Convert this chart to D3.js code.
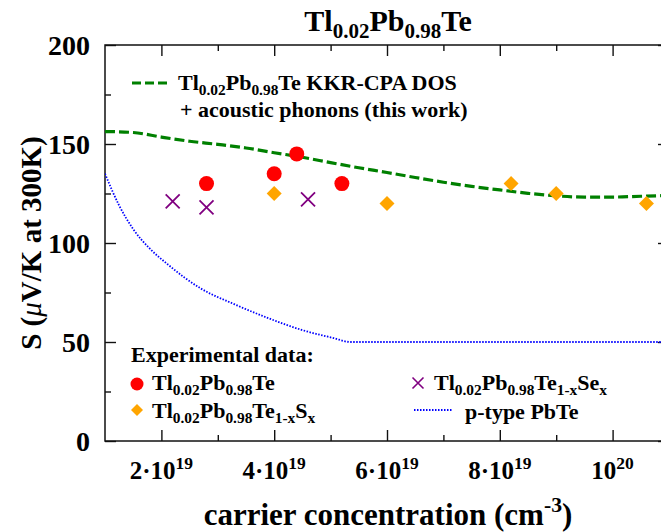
<!DOCTYPE html>
<html>
<head>
<meta charset="utf-8">
<script src="https://cdn.jsdelivr.net/npm/d3@7"></script>
<style>
  body { margin: 0; background: #fff; }
</style>
</head>
<body>
<script>
// data, carrier concentration in units of 1e19 cm^-3
var kkrN = [1.0, 1.5, 2.0, 2.5, 3.0, 3.5, 4.0, 4.5, 5.0, 5.5, 6.0, 6.5, 7.0, 7.5, 8.0, 8.5, 9.0, 9.5, 10.0, 10.5, 11.0];
var kkrS = [156.3, 155.8, 153.5, 151.4, 149.8, 148.0, 145.6, 143.3, 140.6, 138.0, 135.6, 133.1, 130.7, 128.6, 126.8, 125.1, 123.8, 123.2, 123.2, 123.6, 124.0];
var pN = [1.0, 1.25, 1.5, 1.8, 2.1, 2.7, 3.3, 3.9, 4.5, 5.05, 5.35, 11.0];
var pS = [135, 119, 107, 97, 89.5, 77, 69, 62, 56, 52, 50, 50];
var tlN = [2.8, 4.0, 4.4, 5.2];
var tlS = [130, 135, 145, 130];
var sN = [4.0, 6.0, 8.2, 9.0, 10.6];
var sS = [125, 120, 130, 125, 120];
var seN = [2.2, 2.8, 4.6];
var seS = [121, 118, 122];

var xTicks = [2, 4, 6, 8, 10];
var xMinor = [3, 5, 7, 9];
var xTickBase = ["2·10", "4·10", "6·10", "8·10", "10"];
var xTickSup = ["19", "19", "19", "19", "20"];
var yTicks = [0, 50, 100, 150, 200];
var yMinor = [25, 75, 125, 175];

var W = 661, H = 532;
var plot = { left: 105, right: 669, top: 45, bottom: 441 };
var serif = "'Liberation Serif', 'Times New Roman', serif";

var svg = d3.select("body").append("svg")
    .attr("width", W)
    .attr("height", H)
    .attr("font-family", serif)
    .attr("font-weight", "bold");

var x = d3.scaleLinear().domain([1, 11]).range([plot.left, plot.right]);
var y = d3.scaleLinear().domain([0, 200]).range([plot.bottom, plot.top]);

// text with _{sub} and ^{sup}
function rich(t, str, fs) {
  var re = /([_^])\{([^}]*)\}/g, last = 0, m, cur = 0;
  t.attr("font-family", serif).attr("font-weight", "bold").attr("fill", "#000");
  function seg(s, off, size) {
    if (!s) return;
    t.append("tspan").attr("dy", off - cur).attr("font-size", size).text(s);
    cur = off;
  }
  while ((m = re.exec(str))) {
    seg(str.slice(last, m.index), 0, fs);
    if (m[1] == "_") seg(m[2], fs * 0.22, fs * 0.7);
    else seg(m[2], -fs * 0.42, fs * 0.7);
    last = re.lastIndex;
  }
  seg(str.slice(last), 0, fs);
  return t;
}

function tickStyle(g) {
  g.select(".domain").remove();
  g.selectAll(".tick line").attr("stroke", "#111").attr("stroke-width", 1.4);
  g.selectAll(".tick text").remove();
}

// axes: ticks point inward on all four sides
svg.append("g").attr("transform", "translate(0," + plot.bottom + ")")
  .call(d3.axisBottom(x).tickValues(xTicks).tickSize(-11).tickFormat("")).call(tickStyle);
svg.append("g").attr("transform", "translate(0," + plot.bottom + ")")
  .call(d3.axisBottom(x).tickValues(xMinor).tickSize(-6).tickFormat("")).call(tickStyle);
svg.append("g").attr("transform", "translate(0," + plot.top + ")")
  .call(d3.axisTop(x).tickValues(xTicks).tickSize(-11).tickFormat("")).call(tickStyle);
svg.append("g").attr("transform", "translate(0," + plot.top + ")")
  .call(d3.axisTop(x).tickValues(xMinor).tickSize(-6).tickFormat("")).call(tickStyle);
svg.append("g").attr("transform", "translate(" + plot.left + ",0)")
  .call(d3.axisLeft(y).tickValues(yTicks).tickSize(-11).tickFormat("")).call(tickStyle);
svg.append("g").attr("transform", "translate(" + plot.left + ",0)")
  .call(d3.axisLeft(y).tickValues(yMinor).tickSize(-6).tickFormat("")).call(tickStyle);
svg.append("g").attr("transform", "translate(" + plot.right + ",0)")
  .call(d3.axisRight(y).tickValues(yTicks).tickSize(-11).tickFormat("")).call(tickStyle);
svg.append("g").attr("transform", "translate(" + plot.right + ",0)")
  .call(d3.axisRight(y).tickValues(yMinor).tickSize(-6).tickFormat("")).call(tickStyle);

svg.append("rect")
  .attr("x", plot.left).attr("y", plot.top)
  .attr("width", plot.right - plot.left).attr("height", plot.bottom - plot.top)
  .attr("fill", "none").attr("stroke", "#111").attr("stroke-width", 1.5);

// y tick labels
svg.selectAll(".ylab").data(yTicks).enter().append("text")
  .attr("x", plot.left - 15)
  .attr("y", function(d) { return y(d); })
  .attr("dy", "0.35em")
  .attr("text-anchor", "end")
  .attr("font-family", serif)
  .attr("font-size", 28)
  .text(function(d) { return d; });

// x tick labels
svg.selectAll(".xlab").data(xTicks).enter().append("text")
  .attr("x", function(d) { return x(d); })
  .attr("y", 479)
  .attr("text-anchor", "middle")
  .each(function(d, i) {
    rich(d3.select(this), xTickBase[i] + "^{" + xTickSup[i] + "}", 25);
  });

// axis titles
rich(svg.append("text").attr("x", 388).attr("y", 525).attr("text-anchor", "middle"),
  "carrier concentration (cm^{-3})", 31);

var yt = svg.append("text")
  .attr("transform", "translate(41,243) rotate(-90)")
  .attr("text-anchor", "middle")
  .attr("font-family", serif)
  .attr("font-size", 29);
yt.append("tspan").text("S (");
yt.append("tspan").attr("font-style", "italic").attr("font-weight", "normal").text("μ");
yt.append("tspan").text("V/K at 300K)");

// title
rich(svg.append("text").attr("x", 388).attr("y", 31).attr("text-anchor", "middle"),
  "Tl_{0.02}Pb_{0.98}Te", 30);

// curves
svg.append("clipPath").attr("id", "clip").append("rect")
  .attr("x", plot.left).attr("y", plot.top)
  .attr("width", plot.right - plot.left).attr("height", plot.bottom - plot.top);

var line = d3.line()
  .x(function(d) { return x(d[0]); })
  .y(function(d) { return y(d[1]); })
  .curve(d3.curveMonotoneX);

svg.append("path")
  .datum(d3.zip(pN, pS))
  .attr("clip-path", "url(#clip)")
  .attr("d", line)
  .attr("fill", "none")
  .attr("stroke", "#0000ff")
  .attr("stroke-width", 1.8)
  .attr("stroke-dasharray", "1.5,1.5");

svg.append("path")
  .datum(d3.zip(kkrN, kkrS))
  .attr("clip-path", "url(#clip)")
  .attr("d", line)
  .attr("fill", "none")
  .attr("stroke", "#008000")
  .attr("stroke-width", 3.2)
  .attr("stroke-dasharray", "10,4");

// markers
function crossPath(h) {
  return "M" + (-h) + "," + (-h) + "L" + h + "," + h + "M" + (-h) + "," + h + "L" + h + "," + (-h);
}
var diamond = d3.symbol().type(d3.symbolSquare).size(112);

svg.selectAll(".tl").data(d3.zip(tlN, tlS)).enter().append("circle")
  .attr("cx", function(d) { return x(d[0]); })
  .attr("cy", function(d) { return y(d[1]); })
  .attr("r", 7.5)
  .attr("fill", "#ff0000");

svg.selectAll(".s").data(d3.zip(sN, sS)).enter().append("path")
  .attr("d", diamond)
  .attr("transform", function(d) { return "translate(" + x(d[0]) + "," + y(d[1]) + ") rotate(45)"; })
  .attr("fill", "#ffa500");

svg.selectAll(".se").data(d3.zip(seN, seS)).enter().append("path")
  .attr("d", crossPath(7))
  .attr("transform", function(d) { return "translate(" + x(d[0]) + "," + y(d[1]) + ")"; })
  .attr("fill", "none")
  .attr("stroke", "#800080")
  .attr("stroke-width", 1.8);

// legend, top
var lf = 22;
svg.append("line").attr("x1", 132).attr("x2", 169).attr("y1", 83).attr("y2", 83)
  .attr("stroke", "#008000").attr("stroke-width", 3.2).attr("stroke-dasharray", "9,4");
rich(svg.append("text").attr("x", 178).attr("y", 90), "Tl_{0.02}Pb_{0.98}Te KKR-CPA DOS", lf);
rich(svg.append("text").attr("x", 180).attr("y", 117), "+ acoustic phonons (this work)", lf);

// legend, bottom
rich(svg.append("text").attr("x", 131).attr("y", 362), "Experimental data:", lf);
svg.append("circle").attr("cx", 137).attr("cy", 384).attr("r", 6.5).attr("fill", "#ff0000");
rich(svg.append("text").attr("x", 152).attr("y", 390), "Tl_{0.02}Pb_{0.98}Te", lf);
svg.append("path").attr("d", d3.symbol().type(d3.symbolSquare).size(72))
  .attr("transform", "translate(137,410) rotate(45)").attr("fill", "#ffa500");
rich(svg.append("text").attr("x", 152).attr("y", 418), "Tl_{0.02}Pb_{0.98}Te_{1-x}S_{x}", lf);
svg.append("path").attr("d", crossPath(5.5)).attr("transform", "translate(418,383)")
  .attr("fill", "none").attr("stroke", "#800080").attr("stroke-width", 1.6);
rich(svg.append("text").attr("x", 434).attr("y", 390), "Tl_{0.02}Pb_{0.98}Te_{1-x}Se_{x}", lf);
svg.append("line").attr("x1", 414).attr("x2", 452).attr("y1", 410).attr("y2", 410)
  .attr("stroke", "#0000ff").attr("stroke-width", 1.8).attr("stroke-dasharray", "1.5,1.5");
rich(svg.append("text").attr("x", 465).attr("y", 419), "p-type PbTe", lf);
</script>
</body>
</html>
